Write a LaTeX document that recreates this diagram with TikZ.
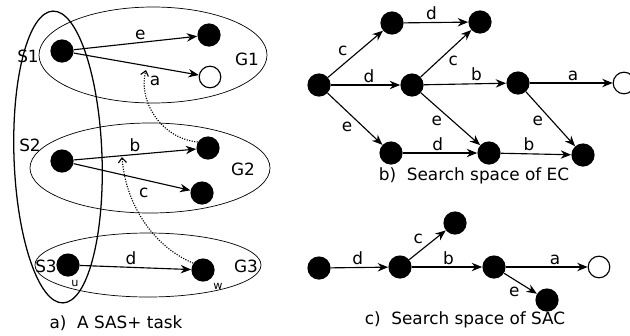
\documentclass[tikz,border=0pt]{standalone}
\usepackage{fontspec}
\setmainfont{DejaVu Sans}
\usetikzlibrary{arrows.meta}
\begin{document}
\begin{tikzpicture}[x=0.025cm,y=-0.025cm,
    dot/.style={circle,fill,inner sep=0pt,minimum size=0.58cm},
    hole/.style={circle,draw,line width=0.8pt,fill=white,inner sep=0pt,minimum size=0.54cm},
    arc/.style={-{Stealth[length=2.6mm,width=2.1mm]},line width=0.8pt},
    lbl/.style={inner sep=1.5pt,font=\fontsize{12}{14}\selectfont},
    small/.style={inner sep=0pt,font=\fontsize{8}{9}\selectfont},
    ring/.style={line width=0.5pt},
    hint/.style={densely dotted,line width=0.8pt,-{Straight Barb[length=1.2mm,width=2mm]}}]
  \useasboundingbox (0,0) rectangle (630,335);
  % a) the task
  \draw[line width=0.9pt,rotate around={2:(58,157)}] (58,157) ellipse [x radius=44,y radius=146];
  \draw[ring] (153,55) ellipse [x radius=114,y radius=48];
  \draw[ring] (150,168) ellipse [x radius=120,y radius=45];
  \draw[ring] (148,265) ellipse [x radius=113,y radius=32];
  \node[dot] (s1) at (62,51) {};
  \node[dot] (g1a) at (209,35) {};
  \node[hole] (g1b) at (210,77) {};
  \node[dot] (s2) at (62,161) {};
  \node[dot] (g2a) at (208,148) {};
  \node[dot] (g2b) at (202,193) {};
  \node[dot] (s3) at (68,265) {};
  \node[dot] (g3) at (203,270) {};
  \node[lbl] (S1) at (28,56) {S1};
  \node[lbl] (S2) at (30,145) {S2};
  \node[lbl] (S3) at (46,266) {S3};
  \node[lbl] (G1) at (247,59) {G1};
  \node[lbl] (G2) at (243,169) {G2};
  \node[lbl] (G3) at (246,266) {G3};
  \node[small] (u) at (75,283) {u};
  \node[small] (w) at (218,286) {w};
  \draw[arc] (s1) -- node[lbl,pos=0.54,above] {e} (g1a);
  \draw[arc] (s1) -- node[lbl,pos=0.65,below=4pt] {a} (g1b);
  \draw[arc] (s2) -- node[lbl,pos=0.5,above] {b} (g2a);
  \draw[arc] (s2) -- node[lbl,pos=0.6,below=4pt] {c} (g2b);
  \draw[arc] (s3) -- node[lbl,pos=0.46,above] {d} (g3);
  \coordinate (t1) at (146,70);
  \coordinate (t2) at (122,157);
  \draw[hint] (g2a.150) .. controls (160,138) and (138,100) .. (t1);
  \draw[hint] (g3.145) .. controls (150,245) and (125,200) .. (t2);
  \node[lbl] (capa) at (116,323) {a)\ \ A SAS+ task};
  % b) search space of EC
  \node[dot] (n0) at (319,85) {};
  \node[dot] (n1) at (392,23) {};
  \node[dot] (n2) at (480,22) {};
  \node[dot] (n3) at (412,85) {};
  \node[dot] (n4) at (518,83) {};
  \node[hole] (n5) at (624,83) {};
  \node[dot] (n6) at (391,153) {};
  \node[dot] (n7) at (489,153) {};
  \node[dot] (n8) at (583,155) {};
  \draw[arc] (n0) -- node[lbl,pos=0.4,above left] {c} (n1);
  \draw[arc] (n1) -- node[lbl,pos=0.43,above] {d} (n2);
  \draw[arc] (n0) -- node[lbl,pos=0.55,above] {d} (n3);
  \draw[arc] (n3) -- node[lbl,pos=0.5,below right] {c} (n2);
  \draw[arc] (n3) -- node[lbl,pos=0.64,above] {b} (n4);
  \draw[arc] (n4) -- node[lbl,pos=0.52,above] {a} (n5);
  \draw[arc] (n0) -- node[lbl,pos=0.5,below left] {e} (n6);
  \draw[arc] (n3) -- node[lbl,pos=0.4,below left] {e} (n7);
  \draw[arc] (n4) -- node[lbl,pos=0.4,below left] {e} (n8);
  \draw[arc] (n6) -- node[lbl,pos=0.47,above] {d} (n7);
  \draw[arc] (n7) -- node[lbl,pos=0.4,above] {b} (n8);
  \node[lbl] (capb) at (474,176) {b)\ \ Search space of EC};
  % c) search space of SAC
  \node[dot] (m0) at (319,268) {};
  \node[dot] (m1) at (400,267) {};
  \node[dot] (m2) at (455,223) {};
  \node[dot] (m3) at (494,267) {};
  \node[hole] (m4) at (599,267) {};
  \node[dot] (m5) at (547,300) {};
  \draw[arc] (m0) -- node[lbl,pos=0.47,above] {d} (m1);
  \draw[arc] (m1) -- node[lbl,pos=0.45,above left] {c} (m2);
  \draw[arc] (m1) -- node[lbl,pos=0.52,above] {b} (m3);
  \draw[arc] (m3) -- node[lbl,pos=0.6,above] {a} (m4);
  \draw[arc] (m3) -- node[lbl,pos=0.55,below left] {e} (m5);
  \node[lbl] (capc) at (465,320) {c)\ \ Search space of SAC};
\end{tikzpicture}
\end{document}
